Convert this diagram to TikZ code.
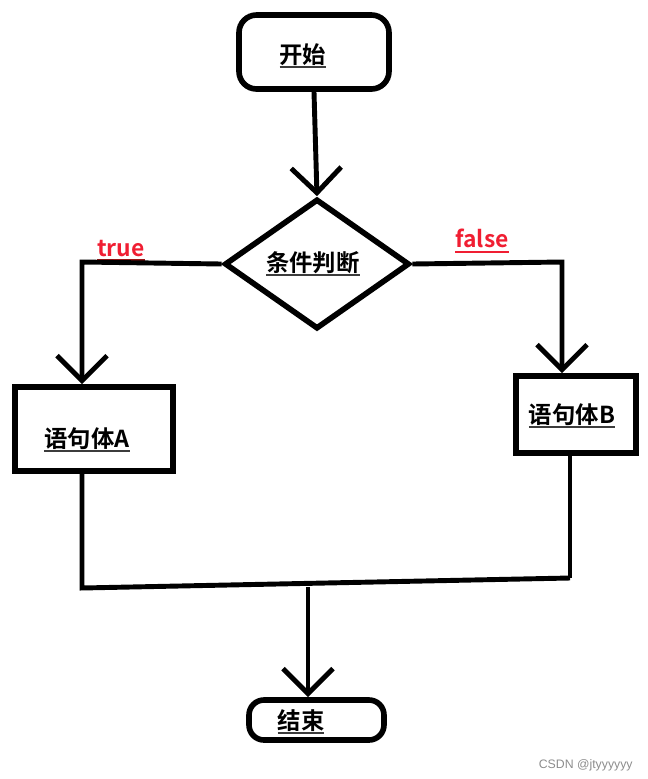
\documentclass[tikz,border=0pt]{standalone}
\usepackage{fontspec}
\newfontfamily\cjk{Noto Sans CJK SC}[BoldFont={Noto Sans CJK SC Bold}]
\setmainfont{Liberation Sans}
\usetikzlibrary{arrows.meta,shapes.geometric}
\definecolor{tfred}{RGB}{240,30,50}
\definecolor{ulgray}{RGB}{60,60,60}
\definecolor{ulred}{RGB}{150,20,20}
\definecolor{wm}{RGB}{140,140,140}
\newcommand\ulc[2]{\setbox0=\hbox{#2}\rlap{\color{#1}\rule[-2.6pt]{\wd0}{1.1pt}}\box0}
\begin{document}
\begin{tikzpicture}[x=0.02cm,y=-0.02cm,
  box/.style={draw,line width=3.2pt,inner sep=0pt},
  ln/.style={line width=2.8pt},
  arr/.style={ln,-{Straight Barb[length=0.5cm,width=1cm]}},
  lbl/.style={font=\cjk\bfseries\fontsize{13.3}{16}\selectfont,inner sep=0pt},
  tf/.style={font=\cjk\bfseries\fontsize{13}{15}\selectfont,inner sep=0pt,text=tfred}]
\useasboundingbox (0,0) rectangle (648,779);
% shapes
\node[box,rounded corners=0.35cm,minimum width=3.0cm,minimum height=1.48cm] (start) at (314,52) {};
\node[box,diamond,minimum width=3.7cm,minimum height=2.6cm] (dec) at (317,264) {};
\node[box,minimum width=3.16cm,minimum height=1.68cm] (A) at (94,429) {};
\node[box,minimum width=2.4cm,minimum height=1.54cm] (B) at (576,414.5) {};
\node[box,rounded corners=0.3cm,minimum width=2.7cm,minimum height=0.8cm] (end) at (316.5,720) {};
% texts
\node[lbl] (tstart) at (303,56) {\ulc{ulgray}{开始}};
\node[lbl] (tdec) at (313,264) {\ulc{ulgray}{条件判断}};
\node[lbl] (tA) at (87,440) {\ulc{ulgray}{语句体A}};
\node[lbl] (tB) at (572,416) {\ulc{ulgray}{语句体B}};
\node[lbl] (tend) at (301,722) {\ulc{ulgray}{结束}};
\node[tf] (ttrue) at (121,251) {\ulc{ulred}{true}};
\node[tf] (tfalse) at (482,241) {\ulc{tfred}{false}};
\node[font=\fontsize{7}{8}\selectfont,text=wm,anchor=east,inner sep=0pt] (wmark) at (633,765) {CSDN @jtyyyyyy};
% connector coordinates
\coordinate (tl) at (82,262);
\coordinate (tr) at (562,262);
\coordinate (ml) at (82,588);
\coordinate (mr) at (570,578);
\coordinate (mm) at (308,587);
% connectors
\draw[arr] (start.south) -- (dec.north);
\draw[arr] (dec.west) -- (tl) -- (tl |- A.north);
\draw[arr] (dec.east) -- (tr) -- (tr |- B.north);
\draw[ln] (A.south -| ml) -- (ml) -- (mr);
\draw[ln] (B.south -| mr) -- (mr);
\draw[arr] (mm) -- (mm |- end.north);
\end{tikzpicture}
\end{document}
